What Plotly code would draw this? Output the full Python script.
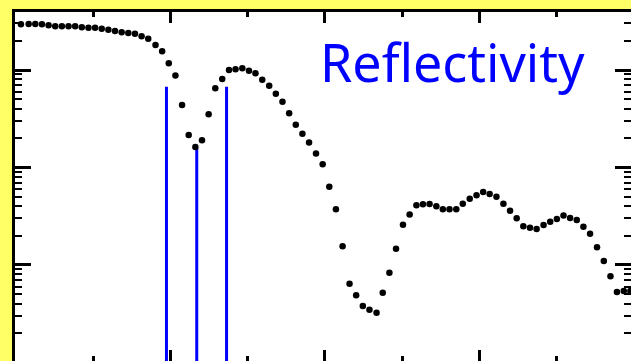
import plotly.graph_objects as go

# Scattering vector (arbitrary units, major ticks every 1.0) and reflectivity
q = [0.032, 0.082, 0.125, 0.168, 0.211, 0.254, 0.297, 0.340, 0.383, 0.426,
     0.469, 0.512, 0.555, 0.598, 0.641, 0.684, 0.727, 0.770, 0.813, 0.856,
     0.903, 0.946, 0.989, 1.032, 1.075, 1.118, 1.161, 1.204, 1.247, 1.290,
     1.335, 1.379, 1.421, 1.465, 1.508, 1.550, 1.594, 1.639, 1.682, 1.725,
     1.768, 1.811, 1.854, 1.897, 1.942, 1.985, 2.028, 2.071, 2.114, 2.159,
     2.202, 2.245, 2.288, 2.334, 2.374, 2.417, 2.460, 2.505, 2.548, 2.592,
     2.634, 2.677, 2.721, 2.763, 2.806, 2.850, 2.892, 2.937, 2.981, 3.024,
     3.066, 3.110, 3.155, 3.198, 3.241, 3.284, 3.327, 3.370, 3.415, 3.458,
     3.501, 3.544, 3.587, 3.630, 3.673, 3.716, 3.761, 3.805, 3.848, 3.890,
     3.934, 3.977]
R = [2.94, 2.96, 2.96, 2.94, 2.87, 2.81, 2.81, 2.81, 2.81, 2.74,
     2.72, 2.72, 2.65, 2.59, 2.51, 2.44, 2.40, 2.36, 2.22, 2.09,
     1.80, 1.56, 1.17, 0.878, 0.438, 0.215, 0.162, 0.190, 0.351, 0.649,
     0.809, 1.00, 1.02, 1.04, 0.984, 0.925, 0.795, 0.690, 0.571, 0.473,
     0.360, 0.275, 0.222, 0.180, 0.139, 0.108, 0.0635, 0.0373, 0.0156, 0.00643,
     0.00489, 0.00380, 0.00348, 0.00324, 0.00520, 0.00834, 0.0147, 0.0259, 0.0330, 0.0410,
     0.0419, 0.0422, 0.0400, 0.0373, 0.0373, 0.0373, 0.0425, 0.0479, 0.0519, 0.0561,
     0.0535, 0.0502, 0.0425, 0.0361, 0.0301, 0.0249, 0.0241, 0.0234, 0.0257, 0.0278,
     0.0296, 0.0321, 0.0303, 0.0290, 0.0247, 0.0209, 0.0152, 0.0110, 0.00766, 0.00529,
     0.00541, 0.00541]

# Critical edges (blue vertical markers)
edge_q = [0.974, 1.170, 1.363]
edge_top = [0.674, 0.158, 0.674]
edge_bottom = 1e-3

label = "Reflectivity"

ex, ey = [], []
for xq, yt in zip(edge_q, edge_top):
    ex += [xq, xq, None]
    ey += [yt, edge_bottom, None]

fig = go.Figure()
fig.add_trace(go.Scatter(x=ex, y=ey, mode="lines",
                         line=dict(color="#0000FF", width=3),
                         hoverinfo="skip", showlegend=False))
fig.add_trace(go.Scatter(x=q, y=R, mode="markers",
                         marker=dict(color="black", size=6.5, line=dict(width=0)),
                         showlegend=False))

fig.update_layout(
    width=631, height=361,
    margin=dict(l=15, r=0, t=12, b=0, pad=0, autoexpand=False),
    paper_bgcolor="#FFFF66",
    plot_bgcolor="white",
    showlegend=False,
    annotations=[dict(text=label, xref="paper", yref="paper",
                      x=0.710, y=0.858, xanchor="center", yanchor="middle",
                      showarrow=False,
                      font=dict(family="Comic Sans MS, Noto Sans, sans-serif",
                                size=52, color="#0000FF"))],
)
fig.update_xaxes(range=[-0.00645, 3.981], showgrid=False, zeroline=False,
                 showline=True, linecolor="black", linewidth=3, mirror="ticks",
                 ticks="inside", ticklen=11, tickwidth=3, tickcolor="black",
                 dtick=1, tick0=0, showticklabels=False, automargin=False,
                 minor=dict(ticks="inside", ticklen=5, tickwidth=2.5,
                            tickcolor="black", dtick=0.5, showgrid=False))
fig.update_yaxes(type="log", range=[-2.985, 0.595], showgrid=False, zeroline=False,
                 showline=True, linecolor="black", linewidth=3, mirror="ticks",
                 ticks="inside", ticklen=16, tickwidth=3, tickcolor="black",
                 dtick=1, showticklabels=False, automargin=False,
                 minor=dict(ticks="inside", ticklen=7, tickwidth=2,
                            tickcolor="black", dtick="D1", showgrid=False))

fig.write_html("out.html", config={"responsive": False, "displayModeBar": False},
               post_script="document.body.style.margin='0';document.body.style.overflow='hidden';")
